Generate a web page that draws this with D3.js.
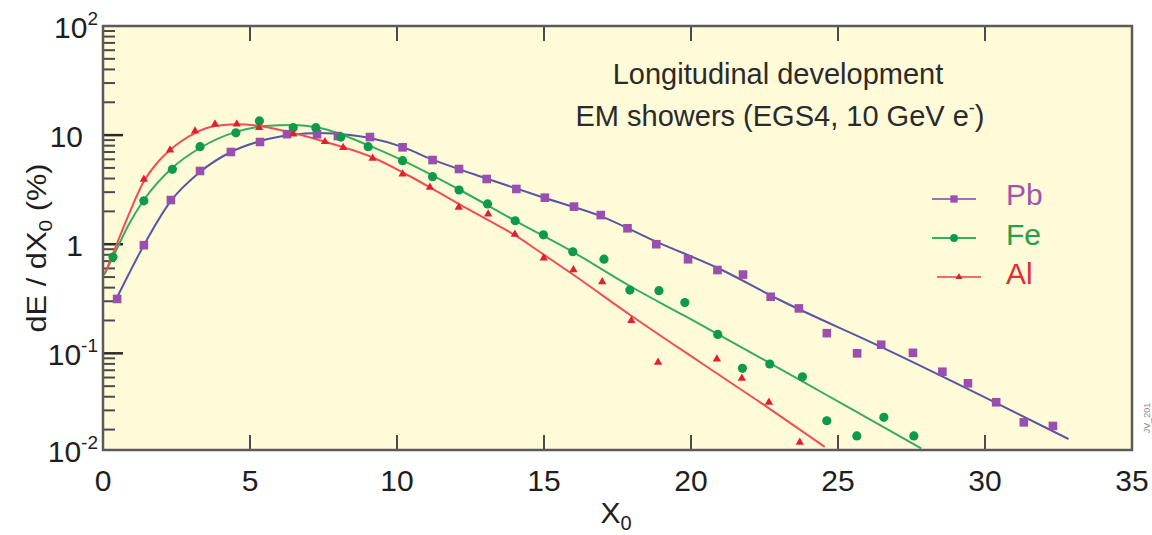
<!DOCTYPE html>
<html>
<head>
<meta charset="utf-8">
<script src="https://cdn.jsdelivr.net/npm/d3@7"></script>
<style>
  body { margin: 0; background: #ffffff; }
  svg { display: block; }
  text { font-family: "Liberation Sans", Arial, Helvetica, sans-serif; }
</style>
</head>
<body>
<svg id="chart" width="1152" height="535"></svg>
<script>
// ---------------- data ----------------
const seriesNames = ["Pb", "Fe", "Al"];

// Simulated points (x in X0, y in %)
const pbX = [0.48,1.39,2.31,3.30,4.35,5.34,6.26,7.28,7.99,9.08,10.19,11.21,12.11,13.05,14.06,15.03,16.02,16.93,17.84,18.82,19.90,20.90,21.77,22.71,23.67,24.62,25.65,26.47,27.55,28.55,29.42,30.38,31.32,32.31];
const pbY = [0.315,0.98,2.54,4.69,7.0,8.65,10.2,10.2,9.8,9.6,7.73,5.91,4.89,3.96,3.21,2.67,2.21,1.85,1.40,1.00,0.728,0.58,0.527,0.33,0.258,0.153,0.10,0.12,0.101,0.0678,0.0531,0.0356,0.0233,0.0216];

const feX = [0.34,1.39,2.36,3.30,4.52,5.32,6.47,7.24,8.09,9.02,10.19,11.21,12.11,13.08,14.02,14.98,15.98,17.04,17.92,18.91,19.79,20.91,21.75,22.68,23.79,24.62,25.64,26.56,27.58];
const feY = [0.763,2.50,4.86,7.83,10.5,13.5,11.7,11.7,9.6,7.83,5.83,4.16,3.14,2.34,1.64,1.22,0.853,0.729,0.38,0.375,0.292,0.149,0.0729,0.0798,0.061,0.0241,0.0175,0.0259,0.0175];

const alX = [1.39,2.28,3.13,3.81,4.55,5.31,6.47,7.55,8.17,9.17,10.19,11.12,12.10,13.10,14.01,14.99,16.00,16.98,17.97,18.88,20.88,21.73,22.65,23.70];
const alY = [3.94,7.3,10.9,12.6,12.6,11.7,10.2,8.7,7.67,6.13,4.40,3.32,2.18,1.89,1.23,0.748,0.583,0.453,0.20,0.0827,0.0887,0.059,0.0356,0.0153];

// Fitted curves (x in X0, y in %)
const pbFitX = [0.46,0.86,1.39,2.31,3.30,4.35,5.34,6.36,7.38,8.40,9.08,10.17,11.19,13.09,15.03,16.93,18.83,20.91,23.02,26.48,30.39,32.84];
const pbFitY = [0.319,0.522,0.98,2.5,4.6,7.0,8.8,10.0,10.45,10.0,9.4,7.8,6.0,3.96,2.65,1.81,1.05,0.605,0.308,0.114,0.035,0.0164];

const feFitX = [0.03,0.34,0.85,1.39,2.35,3.30,4.52,5.51,6.46,7.38,9.01,10.17,12.14,14.04,15.98,17.92,19.79,20.91,22.68,24.61,26.55,27.83];
const feFitY = [0.522,0.763,1.47,2.54,4.99,7.62,10.7,12.1,12.4,11.6,8.1,5.9,3.14,1.63,0.85,0.414,0.22,0.150,0.0815,0.0415,0.0211,0.01346];

const alFitX = [0.07,0.41,0.86,1.36,1.84,2.28,3.13,3.81,4.56,5.34,6.46,7.55,9.18,10.17,11.12,12.10,13.09,14.01,14.86,16.01,17.98,20.30,22.64,24.55];
const alFitY = [0.541,0.917,1.83,3.64,5.55,7.3,10.45,12.1,12.6,12.1,10.45,8.7,6.23,4.59,3.32,2.34,1.67,1.21,0.849,0.522,0.22,0.0832,0.0315,0.0139];

const xTicks = [0, 5, 10, 15, 20, 25, 30, 35];
const xTickLabels = ["0", "5", "10", "15", "20", "25", "30", "35"];
const yTicks = [100, 10, 1, 0.1, 0.01];
const yTickBase = ["10", "10", "1", "10", "10"];
const yTickExp = ["2", "", "", "-1", "-2"];

const titleLines = ["Longitudinal development", "EM showers (EGS4, 10 GeV e"];
const xLabel = "X";
const yLabel = "dE / dX";
const noteText = "JV_201";

// ---------------- drawing ----------------
const svg = d3.select("#chart");
const L = 103, R = 1132, T = 26, B = 450;

const x = d3.scaleLinear().domain([0, 35]).range([L, R]);
const y = d3.scaleLog().domain([0.013, 100]).range([B, T]).clamp(true);

const colors = {
  Pb: { line: "#5656a6", mark: "#9a4fae", text: "#a056ad", leg: "#a070b8" },
  Fe: { line: "#35ac5e", mark: "#0d9a4a", text: "#22a04e", leg: "#36ad60" },
  Al: { line: "#ee4e56", mark: "#e0202e", text: "#e42a34", leg: "#f06b70" }
};

// plot background
svg.append("rect").attr("x", L).attr("y", T).attr("width", R - L).attr("height", B - T)
  .attr("fill", "#fffad8");

// y minor + major ticks
const yt = svg.append("g");
const decades = [0.01, 0.1, 1, 10];
decades.forEach(d => {
  for (let m = 2; m <= 9; m++) {
    const v = d * m;
    if (v < y.domain()[0]) continue;
    yt.append("line").attr("x1", L).attr("x2", L + 12).attr("y1", y(v)).attr("y2", y(v))
      .attr("stroke", "#4a4a4a").attr("stroke-width", 2);
  }
});
[10, 1, 0.1].forEach(v => {
  yt.append("line").attr("x1", L).attr("x2", L + 20).attr("y1", y(v)).attr("y2", y(v))
    .attr("stroke", "#2a2a2a").attr("stroke-width", 2.5);
});

// x ticks bottom and top
xTicks.slice(1, -1).forEach(v => {
  svg.append("line").attr("x1", x(v)).attr("x2", x(v)).attr("y1", B).attr("y2", B - 15)
    .attr("stroke", "#4a4a4a").attr("stroke-width", 2);
  svg.append("line").attr("x1", x(v)).attr("x2", x(v)).attr("y1", T).attr("y2", T + 15)
    .attr("stroke", "#4a4a4a").attr("stroke-width", 2);
});

// curves
const line = d3.line().x(d => x(d[0])).y(d => y(d[1])).curve(d3.curveMonotoneX);
const fits = { Pb: [pbFitX, pbFitY], Fe: [feFitX, feFitY], Al: [alFitX, alFitY] };
seriesNames.forEach(n => {
  const [fx, fy] = fits[n];
  svg.append("path").datum(fx.map((v, i) => [v, fy[i]]))
    .attr("d", line).attr("fill", "none")
    .attr("stroke", colors[n].line).attr("stroke-width", 2);
});

// markers
const pts = { Pb: [pbX, pbY], Fe: [feX, feY], Al: [alX, alY] };
function marker(g, n, cx, cy, s) {
  if (n === "Pb") {
    g.append("rect").attr("x", cx - 4.3 * s).attr("y", cy - 4.3 * s).attr("width", 8.6 * s).attr("height", 8.6 * s)
      .attr("fill", colors.Pb.mark);
  } else if (n === "Fe") {
    g.append("circle").attr("cx", cx).attr("cy", cy).attr("r", 4.6 * s).attr("fill", colors.Fe.mark);
  } else {
    g.append("path").attr("d", d3.symbol(d3.symbolTriangle, 30 * s * s)())
      .attr("transform", `translate(${cx},${cy})`).attr("fill", colors.Al.mark);
  }
}
const mg = svg.append("g");
seriesNames.forEach(n => {
  const [px, py] = pts[n];
  px.forEach((v, i) => marker(mg, n, x(v), y(py[i]), 1));
});

// frame
svg.append("rect").attr("x", L).attr("y", T).attr("width", R - L).attr("height", B - T)
  .attr("fill", "none").attr("stroke", "#5a5a5a").attr("stroke-width", 2.5);

// tick labels
xTicks.forEach((v, i) => {
  svg.append("text").attr("x", x(v)).attr("y", 491).attr("text-anchor", "middle")
    .attr("font-size", 30).attr("fill", "#1e1e1e").text(xTickLabels[i]);
});
yTicks.forEach((v, i) => {
  const hasExp = yTickExp[i] !== "";
  const t = svg.append("text").attr("x", hasExp ? 98 : 83).attr("y", y(v) + 12)
    .attr("text-anchor", "end").attr("font-size", 30).attr("fill", "#1e1e1e");
  t.append("tspan").text(yTickBase[i]);
  if (hasExp) t.append("tspan").attr("font-size", 19).attr("dy", -13).text(yTickExp[i]);
});

// axis titles
const xl = svg.append("text").attr("x", 616).attr("y", 523).attr("text-anchor", "middle")
  .attr("font-size", 30).attr("fill", "#1e1e1e");
xl.append("tspan").text(xLabel);
xl.append("tspan").attr("font-size", 20).attr("dy", 7).text("0");

const yl = svg.append("text").attr("transform", "translate(46,248) rotate(-90) scale(1.1,1)")
  .attr("text-anchor", "middle").attr("font-size", 28).attr("fill", "#1e1e1e");
yl.append("tspan").text(yLabel);
yl.append("tspan").attr("font-size", 19).attr("dy", 6).text("0");
yl.append("tspan").attr("dy", -6).text(" (%)");

// title block
svg.append("text").attr("x", 778).attr("y", 84).attr("text-anchor", "middle")
  .attr("font-size", 29).attr("fill", "#2a2a2a").text(titleLines[0]);
const t2 = svg.append("text").attr("x", 780).attr("y", 126).attr("text-anchor", "middle")
  .attr("font-size", 29).attr("fill", "#2a2a2a");
t2.append("tspan").text(titleLines[1]);
t2.append("tspan").attr("font-size", 18).attr("dy", -12).text("-");
t2.append("tspan").attr("dy", 12).text(")");

// legend
const legY = { Pb: 199, Fe: 238, Al: 277 };
const legX0 = { Pb: 932, Fe: 932, Al: 937 };
const lg = svg.append("g");
seriesNames.forEach(n => {
  const yy = legY[n], x0 = legX0[n];
  lg.append("line").attr("x1", x0).attr("x2", x0 + 44).attr("y1", yy).attr("y2", yy)
    .attr("stroke", colors[n].leg).attr("stroke-width", 2);
  marker(lg, n, x0 + 22, yy, 0.85);
  lg.append("text").attr("x", 1006).attr("y", yy + 6 + (n === "Pb" ? 0 : 1)).attr("font-size", 30)
    .attr("fill", colors[n].text).text(n);
});

// small note
svg.append("text").attr("transform", "translate(1150,418) rotate(-90)")
  .attr("text-anchor", "middle").attr("font-size", 9).attr("fill", "#8a8a8a").text(noteText);
</script>
</body>
</html>
